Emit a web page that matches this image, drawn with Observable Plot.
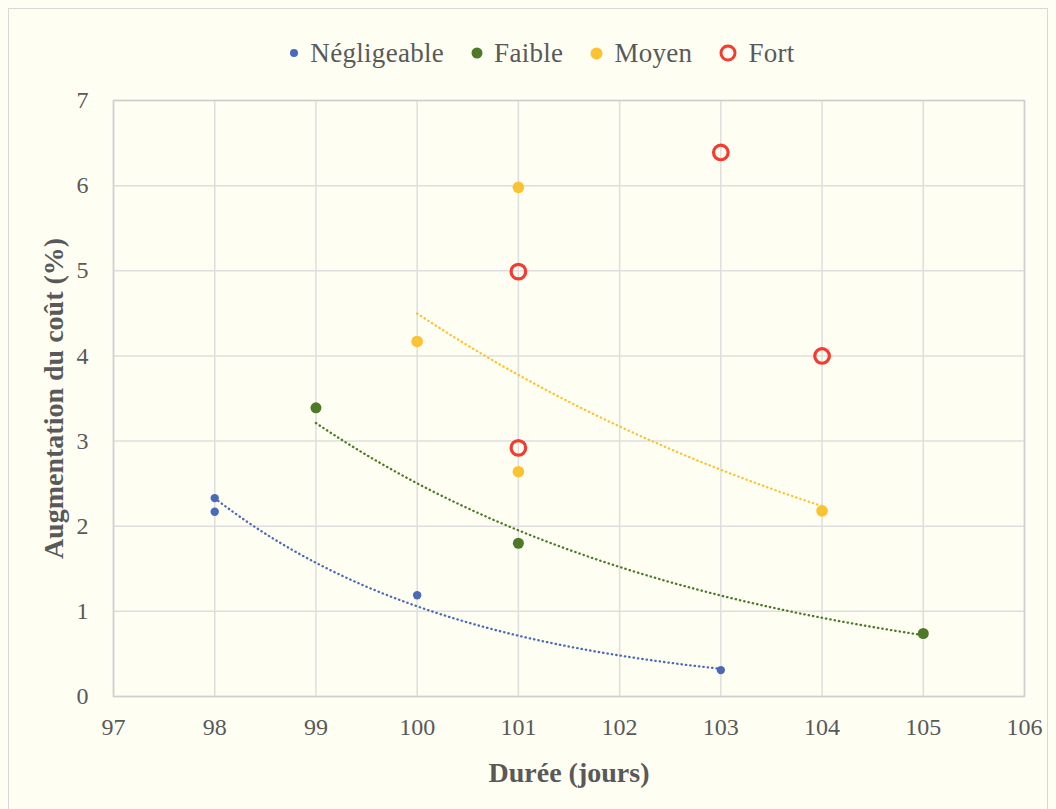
<!DOCTYPE html>
<html><head><meta charset="utf-8">
<script src="https://cdn.jsdelivr.net/npm/d3@7"></script>
<script src="https://cdn.jsdelivr.net/npm/@observablehq/plot@0.6"></script>
<style>
body{margin:0;background:#fefef3;font-family:"Liberation Serif",serif;color:#595959;overflow:hidden}
#frame{position:absolute;left:8px;top:8px;width:1038px;height:830px;border:1px solid #d9d9d9;}
#legend{position:absolute;left:14px;top:0;width:1038px;height:88px;display:flex;justify-content:center;align-items:center;font-size:27px;gap:27px;letter-spacing:0.3px}
#legend .item{display:flex;align-items:center;gap:11px}
#chart{position:absolute;left:0;top:72px}
</style></head>
<body>
<div id="frame">
  <div id="legend"></div>
  <div id="chart"></div>
</div>
<script>
// ---- data ----
const seriesNames = ["Négligeable", "Faible", "Moyen", "Fort"];
const negX = [98, 98, 100, 103];
const negY = [2.33, 2.17, 1.19, 0.31];
const faibleX = [99, 101, 105];
const faibleY = [3.39, 1.80, 0.74];
const moyenX = [100, 101, 101, 104];
const moyenY = [4.17, 5.98, 2.64, 2.18];
const fortX = [101, 101, 103, 104];
const fortY = [4.99, 2.92, 6.39, 4.00];
const xTicks = [97, 98, 99, 100, 101, 102, 103, 104, 105, 106];
const yTicks = [0, 1, 2, 3, 4, 5, 6, 7];
const xLabel = "Durée (jours)";
const yLabel = "Augmentation du coût (%)";

const colors = {"Négligeable": "#4a6ab8", "Faible": "#4e7a27", "Moyen": "#fbc233", "Fort": "#f53b2f"};

const toRows = (xs, ys, s) => xs.map((x, i) => ({x, y: ys[i], s}));
const neg = toRows(negX, negY, "Négligeable");
const faible = toRows(faibleX, faibleY, "Faible");
const moyen = toRows(moyenX, moyenY, "Moyen");
const fort = toRows(fortX, fortY, "Fort");

// Exponential trendline (least squares on ln y), like the spreadsheet's
function expTrend(rows) {
  const xs = rows.map(d => d.x), ls = rows.map(d => Math.log(d.y));
  const mx = d3.mean(xs), ml = d3.mean(ls);
  const b = d3.sum(xs, (x, i) => (x - mx) * (ls[i] - ml)) / d3.sum(xs, x => (x - mx) ** 2);
  const lo = d3.min(xs), hi = d3.max(xs);
  return d3.range(0, 81).map(k => {
    const x = lo + (hi - lo) * k / 80;
    return {x, y: Math.exp(ml + b * (x - mx)), s: rows[0].s};
  });
}

const gridStyle = {stroke: "#dedede", strokeOpacity: 1, strokeWidth: 1.5};
const trendStyle = (s) => ({x: "x", y: "y", stroke: colors[s], strokeWidth: 2.3, strokeDasharray: "0.4,4", strokeLinecap: "round", curve: "linear"});

const plot = Plot.plot({
  width: 1038,
  height: 728,
  marginLeft: 104,
  marginRight: 23,
  marginTop: 19,
  marginBottom: 113,
  style: {background: "transparent", fontFamily: "'Liberation Serif', serif", fontSize: "24px", color: "#595959"},
  x: {domain: [97, 106]},
  y: {domain: [0, 7]},
  marks: [
    Plot.gridX(xTicks, gridStyle),
    Plot.gridY(yTicks, gridStyle),
    Plot.frame({stroke: "#cfcfcf", strokeWidth: 1.5}),
    Plot.axisX({ticks: xTicks, tickFormat: "d", tickSize: 0, tickPadding: 21, label: null, fill: "#595959"}),
    Plot.axisY({ticks: yTicks, tickFormat: "d", tickSize: 0, tickPadding: 25, label: null, fill: "#595959"}),
    Plot.line(expTrend(neg), trendStyle("Négligeable")),
    Plot.line(expTrend(faible), trendStyle("Faible")),
    Plot.line(expTrend(moyen), trendStyle("Moyen")),
    Plot.dot(neg, {x: "x", y: "y", r: 4.2, fill: colors["Négligeable"]}),
    Plot.dot(faible, {x: "x", y: "y", r: 5.5, fill: colors["Faible"]}),
    Plot.dot(moyen, {x: "x", y: "y", r: 5.8, fill: colors["Moyen"]}),
    Plot.dot(fort, {x: "x", y: "y", r: 7.3, fill: "none", stroke: colors["Fort"], strokeWidth: 3.2}),
    Plot.text([xLabel], {frameAnchor: "bottom", textAnchor: "middle", dy: 77, lineAnchor: "middle", fontWeight: "bold", fontSize: 28, letterSpacing: "0.8px", fill: "#595959"}),
    Plot.text([yLabel], {frameAnchor: "left", textAnchor: "middle", dx: -59, rotate: -90, lineAnchor: "middle", fontWeight: "bold", fontSize: 28, letterSpacing: "0.8px", fill: "#595959"})
  ]
});
document.getElementById("chart").appendChild(plot);

// legend
const legendSym = {
  "Négligeable": `<svg width="10" height="10"><circle cx="5" cy="5" r="4" fill="${colors["Négligeable"]}"/></svg>`,
  "Faible": `<svg width="12" height="12"><circle cx="6" cy="6" r="5.5" fill="${colors["Faible"]}"/></svg>`,
  "Moyen": `<svg width="13" height="13"><circle cx="6.5" cy="6.5" r="6" fill="${colors["Moyen"]}"/></svg>`,
  "Fort": `<svg width="18" height="18"><circle cx="9" cy="9" r="7" fill="none" stroke="${colors["Fort"]}" stroke-width="3"/></svg>`
};
const legend = document.getElementById("legend");
seriesNames.forEach(s => {
  const it = document.createElement("span");
  it.className = "item";
  it.innerHTML = legendSym[s] + `<span>${s}</span>`;
  legend.appendChild(it);
});
</script>
</body></html>
